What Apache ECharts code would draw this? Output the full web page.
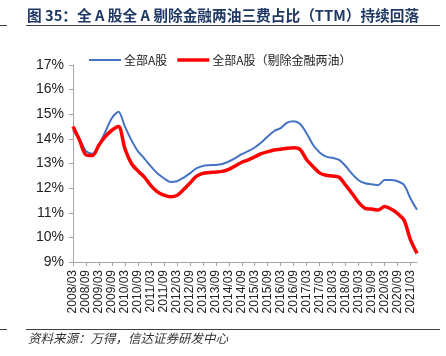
<!DOCTYPE html>
<html>
<head>
<meta charset="utf-8">
<script src="https://cdn.jsdelivr.net/npm/echarts@6/dist/echarts.min.js"></script>
<style>html,body{margin:0;padding:0;background:#fff;}#c{width:446px;height:356px;}</style>
</head>
<body>
<div id="c"></div>
<script>
// Quarterly categories 2008/03 .. 2021/06
var categories = [];
for (var y = 2008; y <= 2021; y++) {
  ['03','06','09','12'].forEach(function(m){
    if (y === 2021 && (m === '09' || m === '12')) return;
    categories.push(y + '/' + m);
  });
}
var seriesAll = [14.35,14.0,13.5,13.4,13.75,14.3,14.85,15.1,14.5,13.95,13.5,13.2,12.88,12.6,12.4,12.25,12.28,12.42,12.6,12.8,12.9,12.93,12.94,12.98,13.08,13.22,13.38,13.5,13.65,13.85,14.1,14.32,14.44,14.66,14.72,14.6,14.22,13.75,13.45,13.28,13.23,13.15,12.9,12.58,12.32,12.2,12.16,12.12,12.33,12.33,12.28,12.13,11.58,11.12];
var seriesEx = [14.5,13.95,13.35,13.32,13.75,14.1,14.35,14.5,13.6,13.0,12.7,12.45,12.1,11.85,11.72,11.65,11.7,11.93,12.2,12.48,12.6,12.63,12.65,12.68,12.76,12.9,13.05,13.15,13.27,13.4,13.48,13.55,13.58,13.62,13.64,13.57,13.15,12.87,12.62,12.52,12.49,12.44,12.12,11.78,11.42,11.18,11.15,11.11,11.25,11.15,10.97,10.7,9.9,9.35];
var seriesNames = ['全部A股', '全部A股（剔除金融两油）'];
var titleText = '图 35：全 A 股全 A 剔除金融两油三费占比（TTM）持续回落';
var sourceText = '资料来源：万得，信达证券研发中心';

var chart = echarts.init(document.getElementById('c'), null, {renderer: 'canvas'});
chart.setOption({
  animation: false,
  backgroundColor: '#fff',
  graphic: [
    {type: 'text', left: 27, top: 8, style: {text: titleText, fill: '#1F3864', font: 'bold 14.7px "Noto Sans CJK SC", "Liberation Sans", sans-serif'}},
    {type: 'line', shape: {x1: 26, y1: 25.5, x2: 440, y2: 25.5}, style: {stroke: '#404040', lineWidth: 1}},
    {type: 'line', shape: {x1: 0, y1: 25.5, x2: 7, y2: 25.5}, style: {stroke: '#404040', lineWidth: 1}},
    {type: 'line', shape: {x1: 26, y1: 329.5, x2: 440, y2: 329.5}, style: {stroke: '#404040', lineWidth: 1}},
    {type: 'line', shape: {x1: 0, y1: 329.5, x2: 7, y2: 329.5}, style: {stroke: '#404040', lineWidth: 1}},
    {type: 'text', left: 28, top: 332, style: {text: sourceText, fill: '#333', font: 'italic 12.5px "Noto Sans CJK SC", sans-serif'}}
  ],
  legend: {
    top: 49,
    left: 84,
    itemWidth: 32,
    itemHeight: 10,
    itemGap: 10,
    textStyle: {fontSize: 12, color: '#222', fontFamily: '"Noto Sans CJK SC", "Liberation Sans", sans-serif', padding: [0,0,0,-2]},
    data: [
      {name: seriesNames[0], icon: 'path://M0,0 L32,0 L32,2 L0,2 Z'},
      {name: seriesNames[1], icon: 'path://M0,0 L32,0 L32,3.5 L0,3.5 Z'}
    ]
  },
  grid: {left: 73, right: 29, top: 65, bottom: 94, containLabel: false},
  xAxis: {
    type: 'category',
    data: categories,
    boundaryGap: false,
    axisLine: {lineStyle: {color: '#A6A6A6', width: 1}},
    axisTick: {show: true, interval: 1, length: 4, inside: false, lineStyle: {color: '#A6A6A6'}},
    axisLabel: {interval: 1, rotate: 90, fontSize: 12, color: '#222', fontFamily: '"Liberation Sans", Arial, sans-serif', margin: 8},
    splitLine: {show: false}
  },
  yAxis: {
    type: 'value',
    min: 9, max: 17, interval: 1,
    axisLine: {show: true, lineStyle: {color: '#A6A6A6', width: 1}},
    axisTick: {show: true, length: 4, lineStyle: {color: '#A6A6A6'}},
    axisLabel: {formatter: '{value}%', fontSize: 14, color: '#222', fontFamily: '"Liberation Sans", Arial, sans-serif', margin: 9},
    splitLine: {show: false}
  },
  series: [
    {name: seriesNames[0], type: 'line', data: seriesAll, symbol: 'none', smooth: 0.3, lineStyle: {color: '#4472C4', width: 2}, itemStyle: {color: '#4472C4'}},
    {name: seriesNames[1], type: 'line', data: seriesEx, symbol: 'none', smooth: 0.3, lineStyle: {color: '#FF0000', width: 3.5}, itemStyle: {color: '#FF0000'}}
  ]
});
</script>
</body>
</html>
